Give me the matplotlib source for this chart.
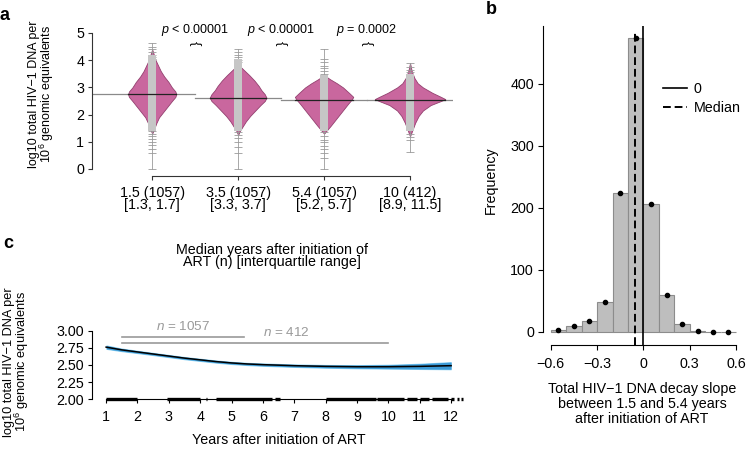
import numpy as np
import matplotlib
matplotlib.use('Agg')
import matplotlib.pyplot as plt

plt.rcParams['font.family'] = ['Liberation Sans', 'DejaVu Sans']
plt.rcParams['mathtext.fontset'] = 'custom'
plt.rcParams['mathtext.rm'] = 'Liberation Sans'
plt.rcParams['mathtext.it'] = 'Liberation Sans:italic'
plt.rcParams['font.size'] = 10.3
FS = 10.3

# %% data -- panel a (bean plots)
group_labels = ['1.5 (1057)\n[1.3, 1.7]', '3.5 (1057)\n[3.3, 3.7]',
                '5.4 (1057)\n[5.2, 5.7]', '10 (412)\n[8.9, 11.5]']
medians = [2.75, 2.60, 2.54, 2.53]

# violin outlines: (value, half width)
g1_y = [1.30, 1.45, 1.70, 1.90, 2.10, 2.30, 2.50, 2.65, 2.75, 2.85, 3.00, 3.20, 3.40, 3.60, 3.80, 4.00, 4.20, 4.40]
g1_w = [0.00, 0.02, 0.05, 0.08, 0.13, 0.18, 0.23, 0.27, 0.28, 0.27, 0.23, 0.19, 0.14, 0.10, 0.07, 0.04, 0.02, 0.00]
g2_y = [1.25, 1.40, 1.55, 1.75, 1.95, 2.15, 2.35, 2.50, 2.62, 2.75, 2.90, 3.05, 3.25, 3.45, 3.60, 3.75, 3.85]
g2_w = [0.00, 0.02, 0.05, 0.09, 0.14, 0.20, 0.26, 0.31, 0.33, 0.31, 0.27, 0.24, 0.19, 0.13, 0.08, 0.03, 0.00]
g3_y = [1.30, 1.45, 1.60, 1.80, 2.00, 2.20, 2.40, 2.55, 2.65, 2.80, 3.00, 3.15, 3.30, 3.45]
g3_w = [0.00, 0.04, 0.08, 0.13, 0.18, 0.23, 0.28, 0.32, 0.34, 0.29, 0.22, 0.15, 0.07, 0.00]
g4_y = [1.20, 1.45, 1.70, 1.95, 2.15, 2.35, 2.50, 2.57, 2.65, 2.80, 3.00, 3.15, 3.35, 3.60, 3.90]
g4_w = [0.00, 0.03, 0.06, 0.10, 0.15, 0.24, 0.36, 0.41, 0.36, 0.26, 0.15, 0.09, 0.05, 0.02, 0.00]

# dense band of individual values and the single outlying values
dense_lo = [1.40, 1.40, 1.40, 1.40]
dense_hi = [4.20, 4.05, 3.45, 3.50]
g1_out = [4.62, 4.50, 4.40, 4.30, 4.20, 4.12, 4.05, 1.38, 1.30, 1.22, 1.10, 1.00, 0.88, 0.72, 0.59, 0.00]
g2_out = [4.42, 4.30, 4.20, 4.10, 4.02, 3.95, 1.35, 1.25, 1.15, 1.00, 0.80, 0.58, 0.00]
g3_out = [4.40, 4.05, 3.95, 3.80, 3.70, 3.60, 3.50, 1.35, 1.20, 1.05, 1.00, 0.85, 0.72, 0.59, 0.40, 0.00]
g4_out = [3.90, 3.75, 3.65, 3.55, 1.30, 1.19, 1.05, 0.64]

p_pos = [1.5, 2.5, 3.5]
p_text = [r'$p$ < 0.00001', r'$p$ < 0.00001', r'$p$ = 0.0002']

# %% data -- panel b (histogram of slopes)
bin_edges = [-0.6, -0.5, -0.4, -0.3, -0.2, -0.1, 0.0, 0.1, 0.2, 0.3, 0.4, 0.5, 0.6]
counts = [3, 9, 18, 48, 224, 474, 207, 59, 13, 2, 0, 0]
median_slope = -0.052

# %% data -- panel c (fitted curve)
years = [1, 1.5, 2, 2.5, 3, 3.5, 4, 4.5, 5, 5.5, 6, 7, 8, 9, 10, 11, 12]
fit = [2.76, 2.72, 2.69, 2.66, 2.63, 2.60, 2.575, 2.55, 2.53, 2.515, 2.505, 2.49, 2.48, 2.475, 2.475, 2.48, 2.49]
ci = [0.025, 0.019, 0.017, 0.016, 0.016, 0.016, 0.016, 0.016, 0.016, 0.016, 0.017, 0.018, 0.02, 0.023, 0.028, 0.038, 0.052]
n_spans = [(1.5, 5.4, 2.91), (1.5, 10.0, 2.82)]
n_text = [(3.45, 3.06, r'$n$ = 1057'), (6.75, 2.97, r'$n$ = 412')]
rug = [(1.0, 2.0), (2.95, 4.0), (4.2, 4.23), (4.5, 6.3), (6.38, 6.55), (8.0, 9.6),
       (9.65, 10.5), (10.6, 10.9), (11.0, 11.3), (11.4, 11.9), (12.0, 12.1),
       (12.2, 12.25), (12.33, 12.38)]

W, H = 747, 449
fig = plt.figure(figsize=(W / 100, H / 100), dpi=100)

def box(l, t, r, b):
    return [l / W, (H - b) / H, (r - l) / W, (b - t) / H]

# %% panel a
axa = fig.add_axes(box(92, 26.2, 453, 175.8))
axa.set_xlim(0.3, 4.5)
axa.set_ylim(-0.25, 5.25)
pink = '#C9679E'
profiles = [(g1_y, g1_w), (g2_y, g2_w), (g3_y, g3_w), (g4_y, g4_w)]
outs = [g1_out, g2_out, g3_out, g4_out]
for i, (py, pw) in enumerate(profiles):
    x = i + 1
    py = np.array(py)
    pw = np.array(pw)
    left = 0.3 if i == 0 else x - 0.5
    axa.plot([left, x + 0.5], [medians[i], medians[i]], color='#8a8a8a', lw=0.9, zorder=1)
    axa.fill_betweenx(py, x - pw, x + pw, color=pink, ec='#93406F', lw=0.6, zorder=2)
    axa.plot([x, x], [min(outs[i]), max(outs[i])], color='#9a9a9a', lw=0.6, zorder=3)
    axa.hlines(outs[i], x - 0.05, x + 0.05, color='#9a9a9a', lw=0.6, zorder=3)
    axa.fill_between([x - 0.045, x + 0.045], dense_lo[i], dense_hi[i], color='#C6C6C6', lw=0, zorder=4)
    wm = pw.max()
    axa.plot([x - wm, x + wm], [medians[i], medians[i]], color='#222222', lw=0.9, zorder=5)
for xp, t in zip(p_pos, p_text):
    axa.text(xp, 5.11, t, ha='center', va='center', fontsize=9, clip_on=False)
    axa.text(xp, 4.63, '{', rotation=-90, ha='center', va='center', fontsize=9.5)
axa.set_yticks([0, 1, 2, 3, 4, 5])
axa.set_xticks([1, 2, 3, 4])
axa.set_xticklabels(group_labels)
for lbl in axa.get_xticklabels():
    lbl.set_linespacing(0.9)
axa.tick_params(axis='both', length=3, width=0.8, labelsize=FS, color='#333333')
axa.tick_params(axis='x', pad=4)
axa.tick_params(axis='y', pad=2.5)
for s in ['top', 'right']:
    axa.spines[s].set_visible(False)
axa.spines['left'].set_bounds(0, 5)
axa.spines['bottom'].set_bounds(1, 4)
for s in ['left', 'bottom']:
    axa.spines[s].set_linewidth(0.8)
    axa.spines[s].set_color('#333333')
fig.text(42 / W, 1 - 94 / H, 'log10 total HIV\u22121 DNA per\n10$^6$ genomic equivalents',
         rotation=90, ha='center', va='center', fontsize=9, linespacing=0.9)
fig.text(272 / W, 1 - 256 / H, 'Median years after initiation of\nART (n) [interquartile range]',
         ha='center', va='center', fontsize=FS, linespacing=0.86)

# %% panel b
axb = fig.add_axes(box(543, 25.7, 743.9, 345))
axb.set_xlim(-0.65, 0.65)
axb.set_ylim(-21, 494)
edges = np.array(bin_edges)
centers = (edges[:-1] + edges[1:]) / 2
axb.bar(centers, counts, width=np.diff(edges), color='#BEBEBE', edgecolor='#8C8C8C', lw=0.8, zorder=2)
axb.plot(centers, counts, 'o', color='black', ms=3, zorder=4)
axb.axvline(0, color='black', lw=1.2, label='0', zorder=3)
axb.axvline(median_slope, ymax=0.985, color='black', lw=1.4, ls=(0, (4, 2)), label='Median', zorder=3)
axb.set_xticks([-0.6, -0.3, 0, 0.3, 0.6])
axb.set_xticklabels(['\u22120.6', '\u22120.3', '0', '0.3', '0.6'])
axb.set_yticks([0, 100, 200, 300, 400])
axb.tick_params(axis='both', length=3.5, width=0.8, labelsize=FS)
axb.tick_params(axis='x', pad=5)
axb.tick_params(axis='y', pad=3)
for s in ['top', 'right']:
    axb.spines[s].set_visible(False)
axb.spines['left'].set_bounds(0, 494)
axb.spines['bottom'].set_bounds(-0.6, 0.6)
for s in ['left', 'bottom']:
    axb.spines[s].set_linewidth(0.8)
axb.legend(loc='upper left', bbox_to_anchor=(663 / W, 1 - 82 / H), bbox_transform=fig.transFigure,
           frameon=False, fontsize=FS, handlelength=1.7, handletextpad=0.45, labelspacing=0.32,
           borderpad=0, borderaxespad=0)
fig.text(491 / W, 1 - 180 / H, 'Frequency', rotation=90, ha='center', va='center', fontsize=FS)
fig.text(642 / W, 1 - 404 / H, 'Total HIV\u22121 DNA decay slope\nbetween 1.5 and 5.4 years\nafter initiation of ART',
         ha='center', va='center', fontsize=FS, linespacing=1.05)

# %% panel c
axc = fig.add_axes(box(92, 322.4, 466.8, 401.4))
axc.set_xlim(0.55, 12.5)
axc.set_ylim(1.97, 3.12)
yr = np.array(years)
ft = np.array(fit)
cw = np.array(ci)
axc.fill_between(yr, ft - cw - 0.008, ft + cw + 0.008, color='#8FD3F4', lw=0, zorder=2)
axc.fill_between(yr, ft - cw, ft + cw, color='#3C9AD6', lw=0, zorder=2)
axc.plot(yr, ft, color='black', lw=1.1, zorder=3)
for x0, x1, yv in n_spans:
    axc.plot([x0, x1], [yv, yv], color='#9a9a9a', lw=1.2, zorder=2)
for xt, yt, t in n_text:
    axc.text(xt, yt, t, ha='center', va='center', color='#9a9a9a', fontsize=9.7, clip_on=False)
rug_lo = [r[0] for r in rug]
rug_hi = [r[1] for r in rug]
axc.hlines([2.0] * len(rug), rug_lo, rug_hi, color='black', lw=2.4, zorder=4, clip_on=False)
axc.set_xticks(range(1, 13))
axc.set_yticks([2.0, 2.25, 2.5, 2.75, 3.0])
axc.set_yticklabels(['2.00', '2.25', '2.50', '2.75', '3.00'])
axc.tick_params(axis='both', length=3, width=0.8, labelsize=FS)
axc.tick_params(axis='x', pad=5)
axc.tick_params(axis='y', pad=3)
for s in ['top', 'right']:
    axc.spines[s].set_visible(False)
axc.spines['bottom'].set_position(('data', 2.0))
axc.spines['left'].set_bounds(2.0, 3.0)
axc.spines['bottom'].set_bounds(1, 12)
for s in ['left', 'bottom']:
    axc.spines[s].set_linewidth(0.8)
fig.text(17 / W, 1 - 362 / H, 'log10 total HIV\u22121 DNA per\n10$^6$ genomic equivalents',
         rotation=90, ha='center', va='center', fontsize=9.2, linespacing=0.9)
fig.text(279 / W, 1 - 440 / H, 'Years after initiation of ART', ha='center', va='center', fontsize=FS)

# panel letters
fig.text(5 / W, 1 - 15 / H, 'a', fontsize=13, fontweight='bold', ha='center', va='center')
fig.text(491 / W, 1 - 9 / H, 'b', fontsize=13, fontweight='bold', ha='center', va='center')
fig.text(8 / W, 1 - 243 / H, 'c', fontsize=13, fontweight='bold', ha='center', va='center')

fig.savefig('out.png', dpi=100)
